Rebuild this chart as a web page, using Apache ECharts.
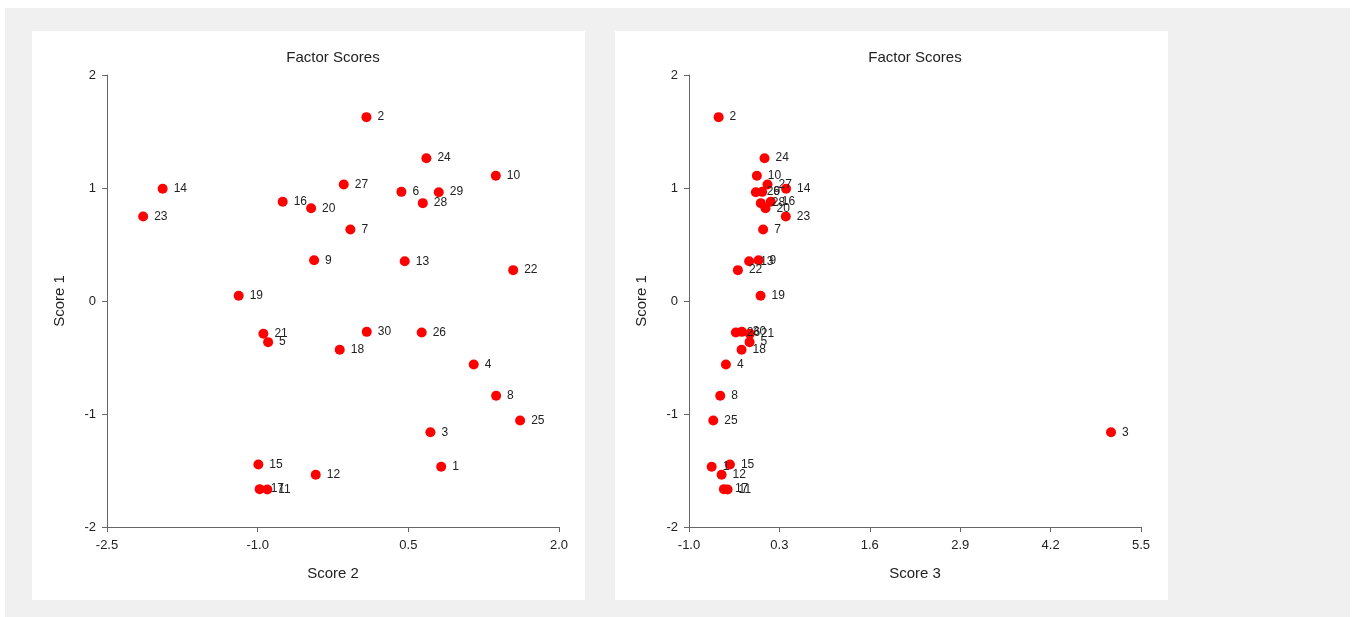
<!DOCTYPE html>
<html>
<head>
<meta charset="utf-8">
<script src="https://cdn.jsdelivr.net/npm/echarts@6/dist/echarts.min.js"></script>
<style>
  html, body { margin: 0; padding: 0; background: #ffffff; width: 1354px; height: 617px; overflow: hidden; }
  #bg { position: absolute; left: 5px; top: 8px; width: 1345px; height: 609px; background: #f0f0f0; }
  .panel { position: absolute; top: 31px; width: 553px; height: 569px; background: #ffffff; }
  #c1 { left: 32px; }
  #c2 { left: 615px; }
</style>
</head>
<body>
<div id="bg"></div>
<div id="c1" class="panel"></div>
<div id="c2" class="panel"></div>
<script>
const ids = [1,2,3,4,5,6,7,8,9,10,11,12,13,14,15,16,17,18,19,20,21,22,23,24,25,26,27,28,29,30];
const score1 = [-1.467, 1.627, -1.161, -0.562, -0.364, 0.966, 0.633, -0.839, 0.361, 1.108,
                -1.668, -1.538, 0.352, 0.993, -1.447, 0.878, -1.665, -0.432, 0.046, 0.821,
                -0.290, 0.273, 0.748, 1.264, -1.058, -0.279, 1.031, 0.866, 0.963, -0.273];
const score2 = [0.827, 0.083, 0.720, 1.151, -0.896, 0.431, -0.077, 1.374, -0.438, 1.371,
                -0.904, -0.422, 0.464, -1.946, -0.993, -0.751, -0.980, -0.183, -1.189, -0.468,
                -0.943, 1.544, -2.140, 0.680, 1.613, 0.633, -0.143, 0.644, 0.803, 0.086];
const score3 = [-0.674, -0.574, 5.069, -0.469, -0.129, 0.052, 0.066, -0.551, 0.000, -0.024,
                -0.445, -0.531, -0.135, 0.396, -0.412, 0.176, -0.498, -0.244, 0.029, 0.100,
                -0.125, -0.297, 0.392, 0.086, -0.651, -0.326, 0.129, 0.033, -0.039, -0.240];
const title = 'Factor Scores';
const yName = 'Score 1';

const FONT = 'Arial, "Liberation Sans", sans-serif';
const AX = '#666666';

function makeOption(xs, xName, xMin, xMax, xInt, gridLeft) {
  return {
    animation: false,
    title: {
      text: title, left: gridLeft + 221, top: 14, textAlign: 'center',
      textStyle: { fontFamily: FONT, fontSize: 15, fontWeight: 'normal', color: '#222' }
    },
    grid: { left: gridLeft, top: 44, width: 452, height: 452 },
    xAxis: {
      type: 'value', min: xMin, max: xMax, interval: xInt,
      name: xName, nameLocation: 'middle', nameGap: 39,
      nameTextStyle: { fontFamily: FONT, fontSize: 15, color: '#222' },
      axisLine: { show: true, onZero: false, lineStyle: { color: AX, width: 1 } },
      axisTick: { show: true, length: 5, lineStyle: { color: AX } },
      axisLabel: { fontFamily: FONT, fontSize: 13, color: '#222', margin: 12,
                   formatter: v => v.toFixed(1) },
      splitLine: { show: false }
    },
    yAxis: {
      type: 'value', min: -2, max: 2, interval: 1,
      name: yName, nameLocation: 'middle', nameGap: 40, nameRotate: 90,
      nameTextStyle: { fontFamily: FONT, fontSize: 15, color: '#222' },
      axisLine: { show: true, onZero: false, lineStyle: { color: AX, width: 1 } },
      axisTick: { show: true, length: 5, lineStyle: { color: AX } },
      axisLabel: { fontFamily: FONT, fontSize: 13, color: '#222', margin: 11 },
      splitLine: { show: false }
    },
    series: [{
      type: 'scatter',
      symbol: 'circle', symbolSize: 10,
      itemStyle: { color: '#ff0000', opacity: 1 },
      label: {
        show: true, position: 'right', distance: 6,
        fontFamily: FONT, fontSize: 12, color: '#222',
        formatter: p => String(p.value[2])
      },
      data: ids.map((id, i) => [xs[i], score1[i], id])
    }]
  };
}

const c1 = echarts.init(document.getElementById('c1'), null, { renderer: 'canvas' });
c1.setOption(makeOption(score2, 'Score 2', -2.5, 2.0, 1.5, 75));
const c2 = echarts.init(document.getElementById('c2'), null, { renderer: 'canvas' });
c2.setOption(makeOption(score3, 'Score 3', -1.0, 5.5, 1.3, 74));
</script>
</body>
</html>
